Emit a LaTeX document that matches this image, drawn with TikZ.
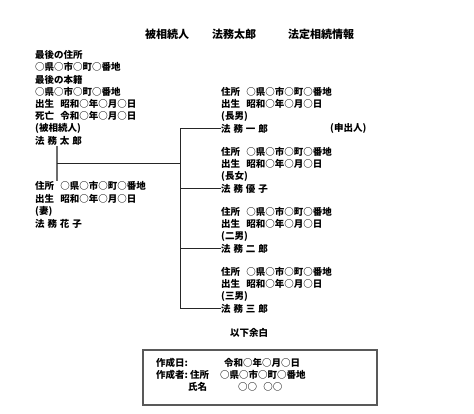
\documentclass[tikz,border=0pt]{standalone}
\usepackage{fontspec}
\setmainfont{Noto Sans CJK JP}
\usepackage{xcolor}
\newcommand{\gap}{\hspace{0.3em}}
\newcommand{\wide}{\hspace{0.65em}}
\newcommand{\maru}{\makebox[1em]{○}}
\tikzset{
  line/.style={anchor=west,inner sep=0pt,font=\fontsize{9.5}{12}\selectfont\bfseries},
  title/.style={anchor=west,inner sep=0pt,font=\fontsize{11}{13}\selectfont\bfseries},
  branch/.style={line width=0.8pt,draw=black!85},
  marriage/.style={line width=2.8pt,draw=gray!85!black}
}

\begin{document}
\begin{tikzpicture}[x=1pt,y=-1pt]
  \useasboundingbox (0,0) rectangle (474,414);
  % title
  \node[title] (t1) at (145,34) {被相続人};
  \node[title] (t2) at (212,34) {法務太郎};
  \node[title] (t3) at (288,34) {法定相続情報};
  % deceased
  \foreach \t [count=\i] in {最後の住所,\maru 県\maru 市\maru 町\maru 番地,最後の本籍,\maru 県\maru 市\maru 町\maru 番地,出生\wide 昭和\maru 年\maru 月\maru 日,死亡\wide 令和\maru 年\maru 月\maru 日,(被相続人)}
    \node[line] (dec\i) at (35,{55+12.2*(\i-1)}) {\t};
  \node[line] (taro) at (35,140.5) {法\gap 務\gap 太\gap 郎};
  % spouse
  \node[line] (w1) at (35,186) {住所\wide \maru 県\maru 市\maru 町\maru 番地};
  \node[line] (w2) at (35,198.5) {出生\wide 昭和\maru 年\maru 月\maru 日};
  \node[line] (w3) at (35,211) {(妻)};
  \node[line] (hanako) at (35,223.5) {法\gap 務\gap 花\gap 子};
  % children
  \foreach \id/\rel/\given [count=\i from 0] in {ichiro/長男/一\gap 郎,yuko/長女/優\gap 子,jiro/二男/二\gap 郎,saburo/三男/三\gap 郎} {
    \node[line] (\id-a) at (221,{92+60*\i}) {住所\wide \maru 県\maru 市\maru 町\maru 番地};
    \node[line] (\id-b) at (221,{104.2+60*\i}) {出生\wide 昭和\maru 年\maru 月\maru 日};
    \node[line] (\id-c) at (221,{116.4+60*\i}) {(\rel)};
    \node[line] (\id) at (221,{128.6+60*\i}) {法\gap 務\gap \given};
  }
  \node[line] (applicant) at (330,128.6) {(申出人)};
  % connectors
  \coordinate (trunk) at (180,163);
  \coordinate (bartop) at (57,146);
  \coordinate (barbot) at (57,181.5);
  \draw[marriage] (bartop) -- (barbot);
  \draw[branch] (bartop |- trunk) -- (trunk);
  \draw[branch] (ichiro.west) -- (ichiro.west -| trunk) -- (saburo.west -| trunk) -- (saburo.west);
  \draw[branch] (yuko.west) -- (yuko.west -| trunk);
  \draw[branch] (jiro.west) -- (jiro.west -| trunk);
  % footer
  \node[line] (rest) at (230,333) {以下余白};
  \draw[line width=1.1pt,draw=gray!70!black] (143,350) rectangle (377,405);
  \node[line] (dlabel) at (156,362.5) {作成日:};
  \node[line] (date) at (224,362.5) {令和\maru 年\maru 月\maru 日};
  \node[line] (mlabel) at (156,374.5) {作成者:};
  \node[line] (maddr) at (190,374.5) {住所};
  \node[line] (maddr2) at (220,374.5) {\maru 県\maru 市\maru 町\maru 番地};
  \node[line] (mname) at (188,387) {氏名};
  \node[line] (mname2) at (238,387) {\maru\maru\wide\maru\maru};
\end{tikzpicture}
\end{document}
